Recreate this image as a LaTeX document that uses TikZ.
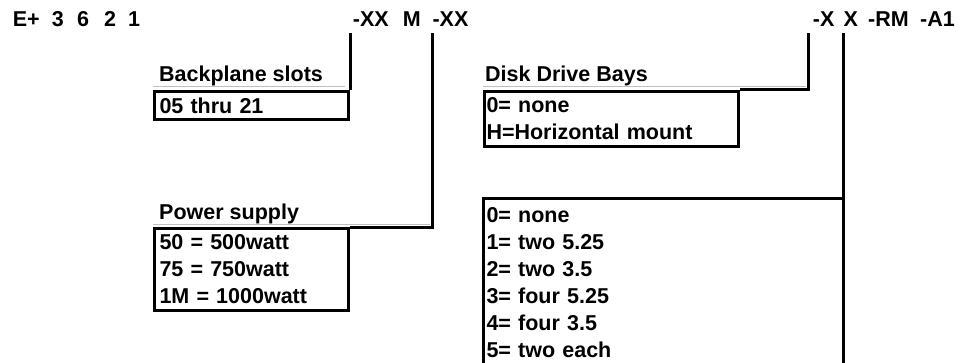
\documentclass[tikz,border=0pt]{standalone}
\usepackage{fontspec}
\setmainfont{Liberation Sans}

\begin{document}
\begin{tikzpicture}[x=1pt,y=1pt]
        \tikzstyle{every node}+=[inner sep=0pt, font=\bfseries\fontsize{21.5}{27}\selectfont]
        \tikzstyle{code}=[anchor=base west]
        \tikzstyle{head}=[anchor=base west]
        \tikzstyle{frame}=[draw=black, line width=3pt, anchor=north west, align=left, inner xsep=5pt]
        \tikzstyle{wire}=[black, line width=3pt]
        \tikzstyle{cell}=[black!25, line width=0.8pt]
        \useasboundingbox (0,0) rectangle (965,-363);
        % part number
        \node [code] (pre) at (12.7,-27) {E+};
        \node [code] (d3) at (51.7,-27) {3};
        \node [code] (d6) at (77,-27) {6};
        \node [code] (d2) at (104,-27) {2};
        \node [code] (d1) at (128,-27) {1};
        \node [code] (slotcode) at (352.7,-27) {-XX};
        \node [code] (mcode) at (402.7,-27) {M};
        \node [code] (pwrcode) at (432.3,-27) {-XX};
        \node [code] (bayscode) at (812.7,-27) {-X};
        \node [code] (unitscode) at (843.3,-27) {X};
        \node [code] (rmcode) at (868,-27) {-RM};
        \node [code] (a1code) at (920,-27) {-A1};
        \coordinate (tapA) at (347,-33);
        \coordinate (tapB) at (432,-33);
        \coordinate (tapC) at (808,-33);
        \coordinate (tapD) at (840,-33);
        % backplane slots
        \node [head] (slotshead) at (159,-82) {Backplane slots};
        \draw [cell] (153,-86) -- (345,-86);
        \node [frame, minimum width=194, minimum height=28, text width=184] (slots) at (153,-90) {05 thru 21};
        \draw [wire] (slots.north east) -- (slots.north east |- tapA);
        % power supply
        \node [head] (powerhead) at (159,-219) {Power supply};
        \draw [cell] (153,-224) -- (430,-224);
        \node [frame, minimum width=194, minimum height=82, text width=184] (power) at (153,-227) {50 = 500watt\\75 = 750watt\\1M = 1000watt};
        \draw [wire] (power.north east) -| (tapB);
        % disk drive bays
        \node [head] (bayshead) at (485,-82) {Disk Drive Bays};
        \draw [cell] (483,-86) -- (806,-86);
        \node [frame, inner xsep=2pt, minimum width=254, minimum height=55, text width=250] (bays) at (483,-90) {0= none\\H=Horizontal mount};
        \draw [wire] (bays.north east) -| (tapC);
        % drive units
        \node [frame, draw=none, inner xsep=2pt, minimum width=357, minimum height=164, text width=353] (units) at (483,-199) {0= none\\1= two 5.25\\2= two 3.5\\3= four 5.25\\4= four 3.5\\5= two each};
        \draw [wire] (units.south west) |- (units.north east);
        \draw [wire] (units.south east) -- (units.south east |- tapD);
\end{tikzpicture}
\end{document}
